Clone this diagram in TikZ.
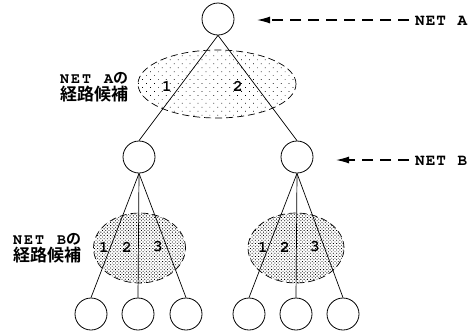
\documentclass[tikz,border=0pt]{standalone}
\usepackage{fontspec}
\newfontfamily\jpfont{Noto Sans CJK JP Bold}
\newfontfamily\typew{texgyrecursor-bold.otf}
% typewriter letters set on a fixed, wide pitch
\newlength\chpitch
\newcommand\ch[1]{\makebox[\chpitch][l]{\typew#1}}
\newcommand\netname[2]{{\setlength\chpitch{#1}\ch{N}\ch{E}\ch{T}\ch{}{\typew#2}}}
\usetikzlibrary{arrows.meta,patterns.meta,shapes.geometric}
\begin{document}
\begin{tikzpicture}[x=1pt,y=-1pt,
  vertex/.style={circle,draw,line width=0.8pt,minimum size=32pt,inner sep=0pt},
  edge/.style={line width=0.7pt},
  candA/.style={ellipse,draw,dash pattern=on 7pt off 4pt,line width=0.7pt,
    pattern={Dots[distance=5.6pt,radius=0.5pt,angle=45]}},
  candB/.style={ellipse,draw,dash pattern=on 7pt off 4pt,line width=0.7pt,
    pattern={Dots[distance=2.3pt,radius=0.6pt,angle=45]}},
  netlabel/.style={font=\fontsize{16}{16}\selectfont,anchor=west,inner sep=0pt},
  num/.style={font=\typew\fontsize{16}{16}\selectfont,inner sep=0pt},
  cand/.style={align=left,inner sep=0pt},
  pointer/.style={dash pattern=on 11pt off 7pt,line width=1.2pt,-{Latex[length=13pt,width=7pt]}}
]
\useasboundingbox (0,0) rectangle (476,333);
\fill[white] (0,0) rectangle (476,333);
% candidate regions (drawn first so edges lie on top)
\path (217,84) node[candA,minimum width=158pt,minimum height=68pt] (ea) {};
\path (139.5,248) node[candB,minimum width=92pt,minimum height=70pt] (eb1) {};
\path (296,248) node[candB,minimum width=96pt,minimum height=70pt] (eb2) {};

% tree vertices
\node[vertex] (r) at (218,19) {};
\node[vertex] (b1) at (139,157) {};
\node[vertex] (b2) at (297,157) {};
\node[vertex] (l1) at (91,314) {};
\node[vertex] (l2) at (138,314) {};
\node[vertex] (l3) at (186,314) {};
\node[vertex] (l4) at (249,314) {};
\node[vertex] (l5) at (296,314) {};
\node[vertex] (l6) at (343,314) {};

% edges
\draw[edge] (r.south) -- (b1.north);
\draw[edge] (r.south) -- (b2.north);
\draw[edge] (b1.south) -- (l1.north);
\draw[edge] (b1.south) -- (l2.north);
\draw[edge] (b1.south) -- (l3.north);
\draw[edge] (b2.south) -- (l4.north);
\draw[edge] (b2.south) -- (l5.north);
\draw[edge] (b2.south) -- (l6.north);

% candidate numbers
\node[num] (a1) at (167,86) {1};
\node[num] (a2) at (238,86) {2};
\node[num] (p1) at (104,247) {1};
\node[num] (p2) at (127,247) {2};
\node[num] (p3) at (158,247) {3};
\node[num] (q1) at (263,247) {1};
\node[num] (q2) at (285,247) {2};
\node[num] (q3) at (315,247) {3};

% candidate captions
\node[cand,anchor=west] (ca) at (60,87)
  {{\fontsize{15}{20}\selectfont\netname{11pt}{A}\jpfont\fontsize{15}{20}\selectfont の}\\[1pt]
   {\jpfont\fontsize{17}{20}\selectfont 経路候補}};
\node[cand,anchor=west] (cb) at (13,248)
  {{\fontsize{15}{20}\selectfont\netname{11pt}{B}\jpfont\fontsize{15}{20}\selectfont の}\\[1pt]
   {\jpfont\fontsize{17}{20}\selectfont 経路候補}};

% net level pointers
\node[netlabel] (na) at (415,21) {\netname{10.6pt}{A}};
\node[netlabel] (nb) at (415,161) {\netname{10.6pt}{B}};
\coordinate (ta) at (257,20);
\coordinate (tb) at (336,160);
\draw[pointer] ([xshift=-6pt,yshift=1pt]na.west) -- (ta);
\draw[pointer] ([xshift=-6pt,yshift=1pt]nb.west) -- (tb);
\end{tikzpicture}
\end{document}
